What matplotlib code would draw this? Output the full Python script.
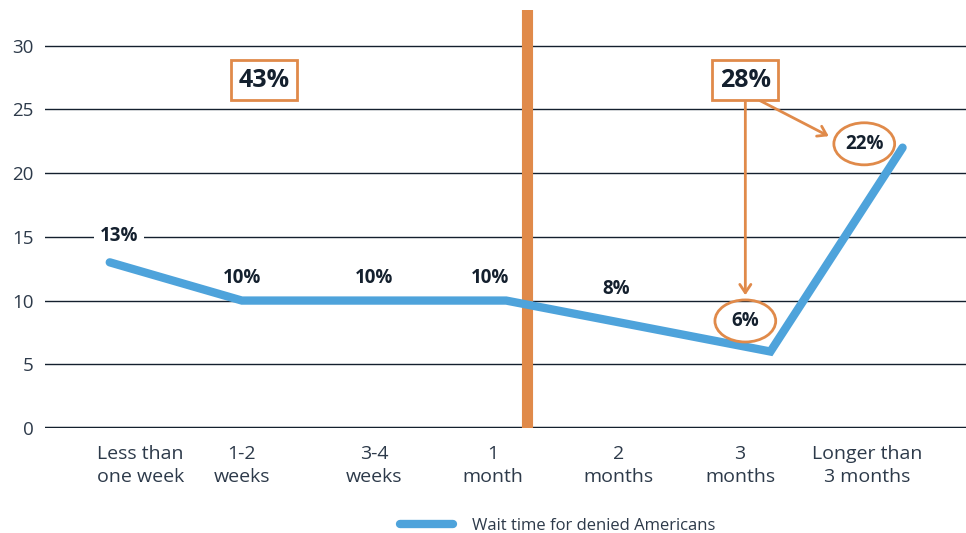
import matplotlib.pyplot as plt
from matplotlib.patches import Ellipse

categories = ["Less than\none week", "1-2\nweeks", "3-4\nweeks", "1\nmonth",
              "2\nmonths", "3\nmonths", "Longer than\n3 months"]
wait_pct = [13, 10, 10, 10, 8, 6, 22]
series_name = "Wait time for denied Americans"
group_totals = ["43%", "28%"]

BLUE = "#4ea3db"
ORANGE = "#e08a4a"
NAVY = "#14202e"
GREY = "#2d3a4a"

plt.rcParams["font.family"] = ["Open Sans", "DejaVu Sans"]

fig = plt.figure(figsize=(9.66, 5.33), dpi=100)
ax = fig.add_axes([45 / 966, 105 / 533, 921 / 966, 418 / 533])
xs = list(range(len(categories)))

ax.set_xlim(-0.49, 6.48)
ax.set_ylim(0, 32.8)
for s in ax.spines.values():
    s.set_visible(False)
ax.set_yticks(range(0, 31, 5))
for yv in range(5, 31, 5):
    ax.axhline(yv, color=NAVY, lw=1.0, zorder=1)
ax.axhline(0, color=NAVY, lw=2.5, zorder=1)
ax.tick_params(axis="y", length=0, pad=8, labelsize=13.5, labelcolor=GREY)

# tick labels sit a little off the data points in the original
label_shift = [0.23, 0.0, 0.0, -0.1, -0.15, -0.23, -0.27]
ax.set_xticks([x + d for x, d in zip(xs, label_shift)])
ax.set_xticklabels(categories, fontsize=14, color=GREY, linespacing=1.35)
ax.tick_params(axis="x", length=0, pad=12)

ax.axvline(3.16, color=ORANGE, lw=8, zorder=2, ymax=1)

ax.plot(xs, wait_pct, color=BLUE, lw=6, solid_capstyle="round",
        solid_joinstyle="miter", zorder=3, label=series_name)

lab_off = [(0.07, 2.1), (0, 1.8), (0, 1.8), (-0.12, 1.8), (-0.17, 2.9)]
for i, (dx, dy) in enumerate(lab_off):
    t = ax.text(xs[i] + dx, wait_pct[i] + dy, f"{wait_pct[i]}%", ha="center",
                va="center", fontsize=13.5, fontweight="bold", color=NAVY, zorder=4)
    if i == 0:
        t.set_bbox(dict(facecolor="white", edgecolor="none", pad=4))

# circled labels
for x, y, v in [(4.81, 8.4, wait_pct[5]), (5.71, 22.3, wait_pct[6])]:
    ax.add_patch(Ellipse((x, y), 0.46, 3.3, fill=False, ec=ORANGE, lw=2, zorder=4))
    ax.text(x, y, f"{v}%", ha="center", va="center", fontsize=13.5,
            fontweight="bold", color=NAVY, zorder=5)

box = dict(boxstyle="square,pad=0.3", facecolor="white", edgecolor=ORANGE, lw=2)
ax.text(1.17, 27.3, group_totals[0], ha="center", va="center", fontsize=18,
        fontweight="bold", color=NAVY, bbox=box, zorder=5)
ax.text(4.81, 27.3, group_totals[1], ha="center", va="center", fontsize=18,
        fontweight="bold", color=NAVY, bbox=box, zorder=5)

arr = dict(arrowstyle="->,head_length=0.6,head_width=0.4", color=ORANGE, lw=2)
ax.annotate("", xy=(4.81, 10.2), xytext=(4.81, 25.8), arrowprops=arr, zorder=4)
ax.annotate("", xy=(5.46, 22.8), xytext=(4.9, 25.8), arrowprops=arr, zorder=4)

fig.legend(loc="lower center", bbox_to_anchor=(0.577, -0.03), frameon=False,
           fontsize=12, handlelength=3.2, handletextpad=1.1, labelcolor=GREY)

fig.savefig("out.png", dpi=100)
